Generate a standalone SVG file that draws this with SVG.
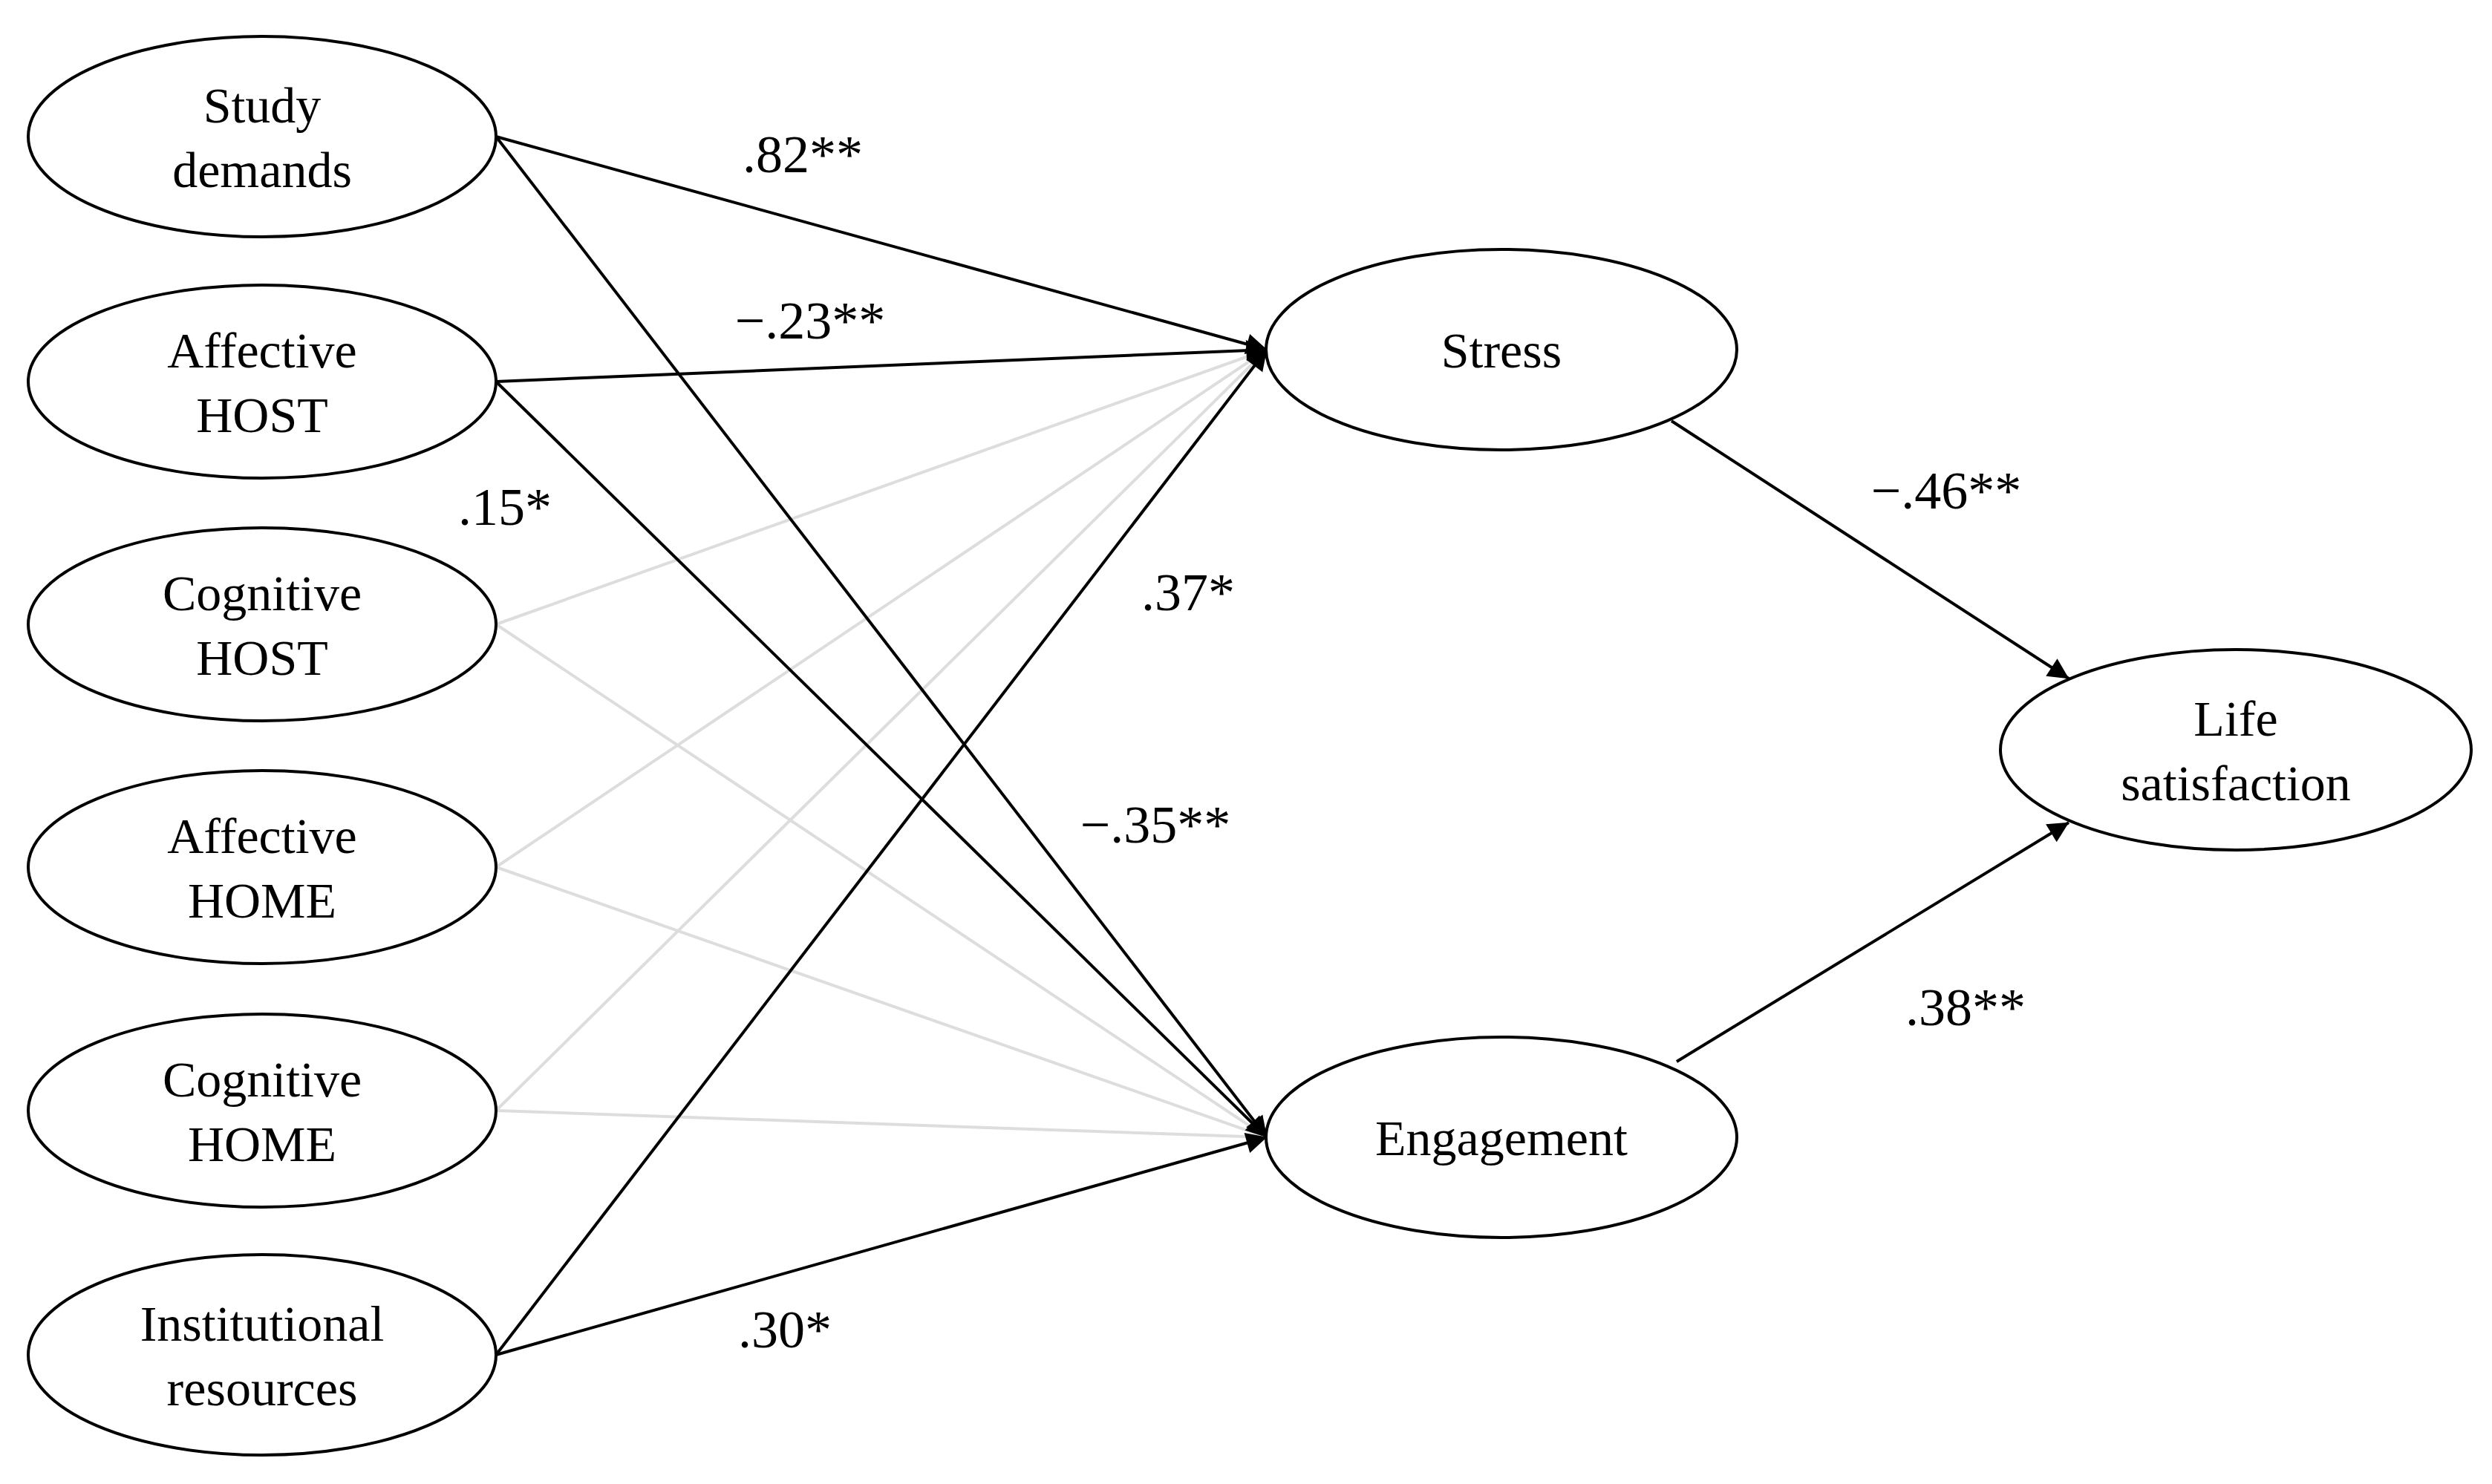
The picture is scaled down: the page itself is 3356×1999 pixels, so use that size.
<svg xmlns="http://www.w3.org/2000/svg" width="3356" height="1999" viewBox="0 0 3356 1999">
<style>
.n{fill:#fff;stroke:#000;stroke-width:4}
.t{font-family:"Liberation Serif",serif;font-size:68px;text-anchor:middle;fill:#000}
.l{font-family:"Liberation Serif",serif;font-size:72px;text-anchor:middle;fill:#000}
.b{stroke:#000;stroke-width:4;fill:none}
.g{stroke:#ddd;stroke-width:4;fill:none}
</style>
<defs><marker id="a" viewBox="0 0 10 10" refX="10" refY="5" markerWidth="8" markerHeight="8" markerUnits="userSpaceOnUse" orient="auto" style="overflow:visible"><path d="M0,0L10,5L0,10z" fill="#000" transform="scale(3.5) translate(-7,-3.6)"/></marker></defs>
<g id="connectors">
<line class="g" x1="668" y1="841" x2="1706" y2="471"/>
<line class="g" x1="668" y1="841" x2="1706" y2="1532"/>
<line class="g" x1="668" y1="1168" x2="1706" y2="471"/>
<line class="g" x1="668" y1="1168" x2="1706" y2="1532"/>
<line class="g" x1="668" y1="1496" x2="1706" y2="471"/>
<line class="g" x1="668" y1="1496" x2="1706" y2="1532"/>
<line class="b" x1="668" y1="184" x2="1706" y2="471" marker-end="url(#a)"/>
<line class="b" x1="668" y1="184" x2="1706" y2="1532" marker-end="url(#a)"/>
<line class="b" x1="668" y1="514" x2="1706" y2="471" marker-end="url(#a)"/>
<line class="b" x1="668" y1="514" x2="1706" y2="1532" marker-end="url(#a)"/>
<line class="b" x1="668" y1="1825" x2="1706" y2="471" marker-end="url(#a)"/>
<line class="b" x1="668" y1="1825" x2="1706" y2="1532" marker-end="url(#a)"/>
<line class="b" x1="2251" y1="567" x2="2786" y2="914" marker-end="url(#a)"/>
<line class="b" x1="2258" y1="1430" x2="2786" y2="1108" marker-end="url(#a)"/>
</g>
<g id="labels">
<text class="l" x="1081" y="232">.82**</text>
<text class="l" x="1091" y="456">−.23**</text>
<text class="l" x="680" y="707">.15*</text>
<text class="l" x="1600" y="822">.37*</text>
<text class="l" x="1556" y="1135">−.35**</text>
<text class="l" x="1057" y="1815">.30*</text>
<text class="l" x="2621" y="685">−.46**</text>
<text class="l" x="2647" y="1381">.38**</text>
</g>
<g id="study"><ellipse class="n" cx="353" cy="184" rx="315" ry="135"/><text class="t" x="353" y="165">Study</text><text class="t" x="353" y="252">demands</text></g>
<g id="ahost"><ellipse class="n" cx="353" cy="514" rx="315" ry="130"/><text class="t" x="353" y="495">Affective</text><text class="t" x="353" y="582">HOST</text></g>
<g id="chost"><ellipse class="n" cx="353" cy="841" rx="315" ry="130"/><text class="t" x="353" y="822">Cognitive</text><text class="t" x="353" y="909">HOST</text></g>
<g id="ahome"><ellipse class="n" cx="353" cy="1168" rx="315" ry="130"/><text class="t" x="353" y="1149">Affective</text><text class="t" x="353" y="1236">HOME</text></g>
<g id="chome"><ellipse class="n" cx="353" cy="1496" rx="315" ry="130"/><text class="t" x="353" y="1477">Cognitive</text><text class="t" x="353" y="1564">HOME</text></g>
<g id="inst"><ellipse class="n" cx="353" cy="1825" rx="315" ry="135"/><text class="t" x="353" y="1806">Institutional</text><text class="t" x="353" y="1893">resources</text></g>
<g id="stress"><ellipse class="n" cx="2022" cy="471" rx="317" ry="135"/><text class="t" x="2022" y="495">Stress</text></g>
<g id="engagement"><ellipse class="n" cx="2022" cy="1532" rx="317" ry="135"/><text class="t" x="2022" y="1556">Engagement</text></g>
<g id="life"><ellipse class="n" cx="3011" cy="1010" rx="317" ry="135"/><text class="t" x="3011" y="991">Life</text><text class="t" x="3011" y="1078">satisfaction</text></g>
</svg>
